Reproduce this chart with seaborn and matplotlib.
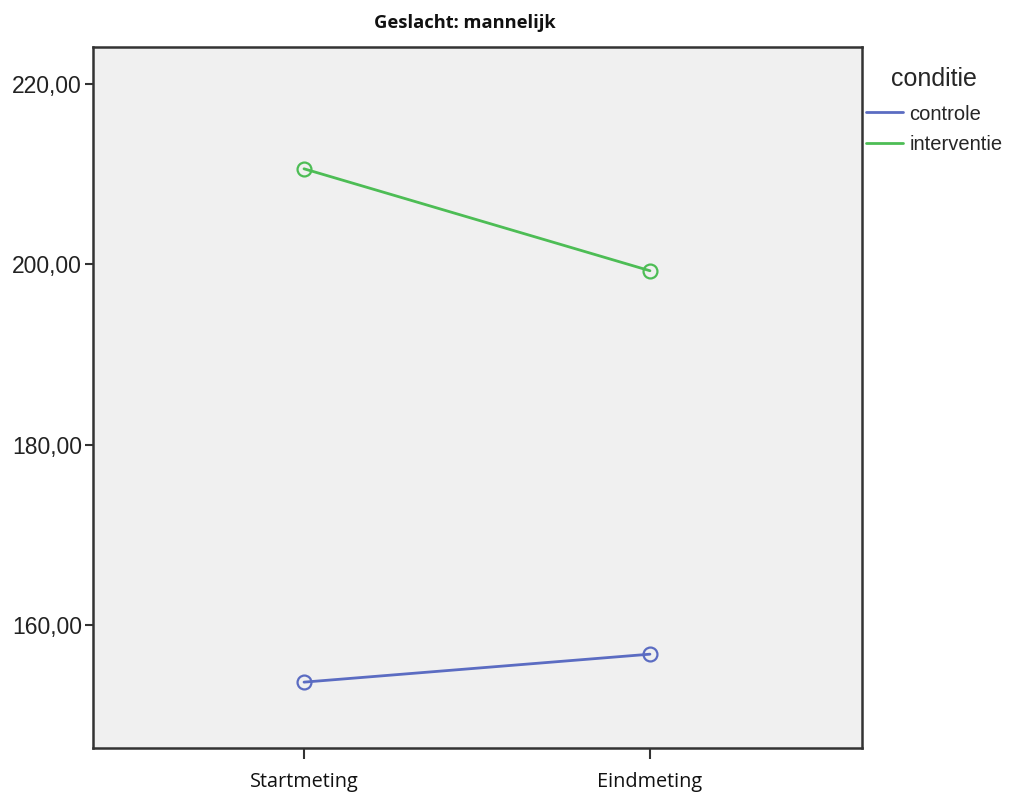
import matplotlib
matplotlib.use("Agg")
import matplotlib.pyplot as plt
import seaborn as sns
import pandas as pd
from matplotlib.lines import Line2D
from matplotlib.ticker import FuncFormatter

# Data
meting = ["Startmeting", "Eindmeting"]
controle = [153.7, 156.8]
interventie = [210.6, 199.3]
groups = ["controle", "interventie"]
yticks = [160, 180, 200, 220]

df = pd.DataFrame({
    "meting": meting * 2,
    "waarde": controle + interventie,
    "conditie": [groups[0]] * 2 + [groups[1]] * 2,
})

sns.set_theme(style="white")
plt.rcParams["font.family"] = ["Liberation Sans", "DejaVu Sans"]

palette = {"controle": "#5b6cc2", "interventie": "#4dbd55"}

fig = plt.figure(figsize=(10.09, 7.92), dpi=100)
ax = fig.add_axes([93 / 1009, 44 / 792, 769 / 1009, 701 / 792])
ax.set_facecolor("#f0f0f0")

sns.lineplot(data=df, x="meting", y="waarde", hue="conditie", palette=palette,
             marker="o", markersize=10, markerfacecolor="none", markeredgewidth=1.6,
             linewidth=2, legend=False, ax=ax, sort=False)
for ln in ax.get_lines():
    ln.set_markeredgecolor(ln.get_color())
    ln.set_markerfacecolor("none")

ax.set_xlim(-0.61, 1.613)
ax.set_ylim(146.4, 224.1)
ax.set_yticks(yticks)
ax.yaxis.set_major_formatter(FuncFormatter(lambda v, p: f"{v:.2f}".replace(".", ",")))
ax.set_xlabel("")
ax.set_ylabel("")

for s in ax.spines.values():
    s.set_color("#333333")
    s.set_linewidth(1.8)

ax.tick_params(axis="y", left=True, length=6, width=1.5, color="#333333",
               labelsize=16.5, labelcolor="#222222", pad=2)
ax.tick_params(axis="x", bottom=True, length=8, width=1.5, color="#333333",
               labelsize=14.3, labelcolor="#111111", pad=9)
for lbl in ax.get_xticklabels():
    lbl.set_family(["Open Sans", "DejaVu Sans"])

ax.set_title("Geslacht: mannelijk", fontsize=13.2, fontweight="bold",
             family=["Open Sans", "DejaVu Sans"], pad=14, color="#111111",
             x=0.483)

handles = [Line2D([0], [0], color=palette[g], lw=2) for g in groups]
leg = ax.legend(handles, groups, title="conditie", loc="upper left",
                bbox_to_anchor=(1.005, 0.972), frameon=False, fontsize=14.5,
                title_fontsize=18, handlelength=1.85, handletextpad=0.3,
                labelspacing=0.55, borderaxespad=0.0, borderpad=0.0)
leg._legend_box.align = "center"
leg._legend_box.sep = 10

fig.savefig("out.png", dpi=100)
